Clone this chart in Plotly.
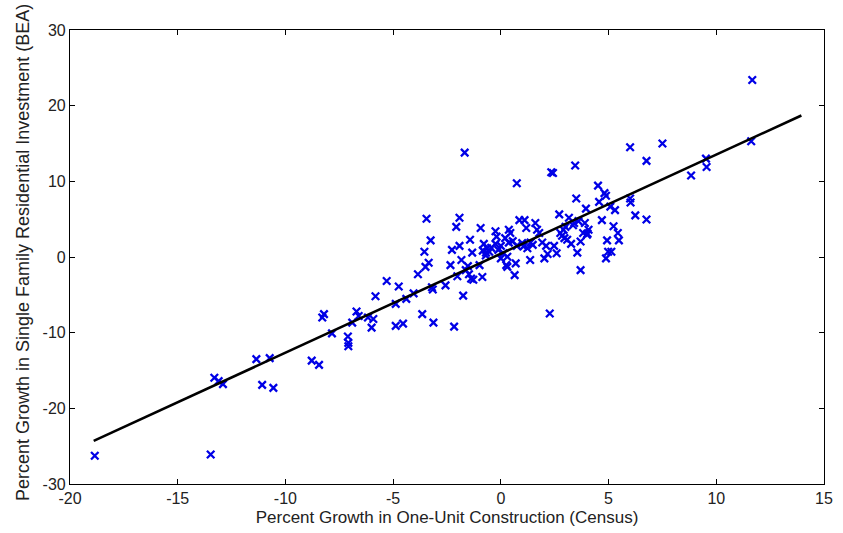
import plotly.graph_objects as go

# Scatter data: percent growth in one-unit construction (Census) vs
# percent growth in single family residential investment (BEA)
census_growth = [
    -18.85, -13.47, -13.3, -13.1, -12.9, -11.35, -11.08, -10.73, -10.56, -8.78,
    -8.44, -8.29, -8.21, -7.84, -7.1, -7.08, -7.08, -6.9, -6.7, -6.6,
    -6.17, -6.0, -5.92, -5.82, -5.3, -4.88, -4.88, -4.74, -4.54, -4.39,
    -4.05, -3.85, -3.65, -3.55, -3.5, -3.45, -3.35, -3.26, -3.2, -3.16,
    -3.13, -2.57, -2.34, -2.27, -2.17, -2.07, -2.02, -1.92, -1.92, -1.83,
    -1.75, -1.68, -1.63, -1.53, -1.48, -1.43, -1.38, -1.33, -1.28, -0.99,
    -0.94, -0.86, -0.84, -0.79, -0.69, -0.64, -0.54, -0.25, -0.2, -0.25,
    -0.12, 0.0, 0.12, 0.2, 0.25, 0.3, 0.37, 0.37, 0.44, 0.64,
    0.69, 0.74, 0.74, 0.86, 0.99, 1.1, 1.18, 1.23, 1.36, 1.38,
    1.48, 1.6, 1.68, 1.78, 1.92, 2.02, 2.1, 2.17, 2.27, 2.34,
    2.42, 2.47, 2.59, 2.71, 2.76, 2.84, 2.91, 3.0, 3.08, 3.16,
    3.26, 3.4, 3.45, 3.5, 3.55, 3.6, 3.7, 3.7, 3.82, 3.9,
    3.95, 4.0, 4.07, 4.51, 4.56, 4.69, 4.81, 4.88, 4.88, 4.93,
    4.98, 5.08, 5.13, 5.23, 5.3, 5.43, 5.48, 6.0, 6.0, 6.02,
    6.24, 6.76, 6.76, 7.5, 8.83, 9.52, 9.55, 11.67, 11.62, 0.0,
    0.3, -0.45, 0.55, 1.05, 2.95, 3.35, 4.02, -0.7,
]
bea_growth = [
    -26.27, -26.1, -15.95, -16.4, -16.8, -13.5, -16.9, -13.36, -17.3, -13.7,
    -14.25, -8.0, -7.55, -10.1, -10.5, -11.35, -11.8, -8.67, -7.2, -7.8,
    -8.0, -9.34, -8.2, -5.18, -3.17, -9.1, -6.2, -3.9, -8.8, -5.54,
    -4.8, -2.28, -7.55, 0.7, -1.3, 5.05, -0.76, 2.2, -4.0, -4.3,
    -8.67, -3.75, -1.07, 0.94, -9.2, 3.98, -2.55, 5.18, 1.47, -0.4,
    -5.1, 13.8, -1.74, -1.2, -2.28, 2.28, -2.86, 0.58, -3.0, -1.07,
    3.84, -2.64, 0.85, 1.74, 0.58, 1.16, 0.7, 3.4, 2.7, 1.74,
    0.94, -0.18, 0.5, 2.5, -1.07, -1.3, 3.6, 1.9, 3.17, -2.4,
    -0.85, 9.74, 1.47, 4.87, 1.83, 4.87, 3.84, 1.16, -0.4, 1.92,
    1.6, 4.5, 3.6, 3.17, 1.92, -0.18, 1.47, 0.4, -7.46, 11.2,
    11.1, 1.47, 0.5, 5.63, 3.17, 2.8, 3.6, 3.98, 2.28, 5.18,
    1.74, 4.5, 12.1, 7.73, 0.58, 4.74, -1.74, 2.05, 3.17, 4.5,
    6.4, 2.95, 3.6, 9.43, 7.28, 4.87, 8.44, 8.09, -0.18, 2.2,
    0.7, 6.66, 0.7, 4.07, 6.2, 3.17, 2.2, 14.5, 7.73, 7.2,
    5.5, 12.7, 4.96, 15.0, 10.77, 13.0, 11.9, 23.4, 15.3, 1.47,
    0.04, 1.2, 2.1, 1.4, 2.5, 4.2, 3.1, 0.2,
]

# Fitted line
fit_x = [-18.9, 13.95]
fit_y = [-24.3, 18.7]

x_ticks = [-20, -15, -10, -5, 0, 5, 10, 15]
y_ticks = [-30, -20, -10, 0, 10, 20, 30]

x_title = "Percent Growth in One-Unit Construction (Census)"
y_title = "Percent Growth in Single Family Residential Investment (BEA)"

font_family = "Liberation Sans, Arial, sans-serif"

fig = go.Figure()
fig.add_trace(go.Scatter(
    x=census_growth, y=bea_growth, mode="markers",
    marker=dict(symbol="x-thin", size=7.5, line=dict(color="#0000e6", width=2.3)),
    showlegend=False, hoverinfo="skip",
))
fig.add_trace(go.Scatter(
    x=fit_x, y=fit_y, mode="lines",
    line=dict(color="black", width=2.6),
    showlegend=False, hoverinfo="skip",
))

axis_common = dict(
    showgrid=False, zeroline=False, showline=True, linecolor="black", linewidth=1.2,
    mirror="ticks", ticks="inside", ticklen=5, tickcolor="black", tickwidth=1,
    tickfont=dict(family=font_family, size=16, color="#222222"),
)
fig.update_xaxes(
    range=[-20, 15], tickvals=x_ticks, ticktext=[str(v) for v in x_ticks],
    title=dict(text=x_title,
               font=dict(family=font_family, size=17, color="#222222"), standoff=4),
    **axis_common,
)
fig.update_yaxes(
    range=[-30, 30], tickvals=y_ticks, ticktext=[str(v) for v in y_ticks],
    **axis_common,
)
fig.add_annotation(
    text=y_title, textangle=-90, showarrow=False,
    xref="paper", yref="paper", x=0, y=0.5, xanchor="center", yanchor="middle",
    xshift=-47, yshift=4,
    font=dict(family=font_family, size=18, color="#222222"),
)
fig.update_layout(
    width=843, height=533,
    margin=dict(l=70, r=10, t=30, b=46),
    paper_bgcolor="white", plot_bgcolor="white",
)
fig.write_html("out.html",
               config={"displayModeBar": False},
               post_script="document.body.style.margin='0';document.body.style.overflow='hidden';")
